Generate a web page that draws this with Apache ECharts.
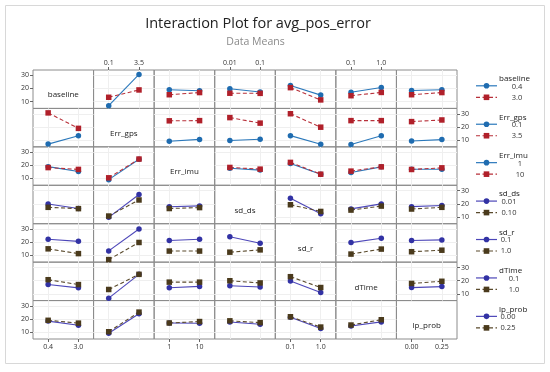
<!DOCTYPE html>
<html><head><meta charset="utf-8">
<script src="https://cdn.jsdelivr.net/npm/echarts@6/dist/echarts.min.js"></script>
<style>html,body{margin:0;padding:0;background:#fff}#c{width:550px;height:372px}</style>
</head><body><div id="c"></div>
<script>
// ---------- data ----------
const factors = ['baseline','Err_gps','Err_imu','sd_ds','sd_r','dTime','lp_prob'];
const legendLevels = [['0.4','3.0'],['0.1','3.5'],['1','10'],['0.01','0.10'],['0.1','1.0'],['0.1','1.0'],['0.00','0.25']];
const axisTickLabels = [['0.4','3.0'],['0.1','3.5'],['1','10'],['0.01','0.1'],['0.1','1.0'],['0.1','1.0'],['0.00','0.25']];
const yTickValues = [10, 20, 30];

// each entry: means at the two levels of the column factor (null on diagonal)
const baselineLow  = [null,[6.9,30.7],[19.0,18.3],[19.85,17.3],[22.3,14.95],[17.1,20.7],[18.45,19.05]];
const baselineHigh = [null,[13.3,18.9],[15.25,16.9],[16.4,16.3],[20.65,11.3],[14.5,17.0],[15.25,16.9]];
const errGpsLow    = [[6.9,13.3],null,[9.1,10.5],[9.65,10.65],[13.35,6.75],[6.65,13.25],[9.25,10.35]];
const errGpsHigh   = [[30.7,18.9],null,[24.65,24.8],[27.1,22.9],[30.05,19.8],[24.8,24.8],[24.05,25.3]];
const errImuLow    = [[19.0,15.25],[9.1,24.65],null,[17.77,16.38],[21.35,13.25],[14.55,18.85],[17.0,17.0]];
const errImuHigh   = [[18.3,16.9],[10.5,24.8],null,[18.4,17.1],[22.25,13.25],[15.6,18.85],[16.85,18.1]];
const sdDsLow      = [[19.85,16.4],[9.65,27.1],[17.77,18.4],null,[24.15,12.4],[16.1,19.9],[17.8,18.65]];
const sdDsHigh     = [[17.3,16.3],[10.65,22.9],[16.38,17.1],null,[19.25,14.15],[15.2,18.25],[16.0,17.3]];
const sdRLow       = [[22.3,20.65],[13.35,30.05],[21.35,22.25],[24.15,19.25],null,[19.7,23.0],[21.35,21.75]];
const sdRHigh      = [[14.95,11.3],[6.75,19.8],[13.25,13.25],[12.4,14.15],null,[10.95,14.75],[12.75,13.9]];
const dTimeLow     = [[17.1,14.5],[6.65,24.8],[14.55,15.6],[16.1,15.2],[19.7,10.95],null,[14.7,15.45]];
const dTimeHigh    = [[20.7,17.0],[13.25,24.8],[18.85,18.85],[19.9,18.25],[23.0,14.75],null,[17.85,19.5]];
const lpProbLow    = [[18.45,15.25],[9.25,24.05],[17.0,16.85],[17.8,16.0],[21.35,12.75],[14.7,17.85],null];
const lpProbHigh   = [[19.05,16.9],[10.35,25.3],[17.0,18.1],[18.65,17.3],[21.75,13.9],[15.45,19.5],null];

const lowLines  = [baselineLow, errGpsLow, errImuLow, sdDsLow, sdRLow, dTimeLow, lpProbLow];
const highLines = [baselineHigh, errGpsHigh, errImuHigh, sdDsHigh, sdRHigh, dTimeHigh, lpProbHigh];

// ---------- layout / style ----------
const L = 33, T = 70, W = 424 / 7, H = 269 / 7;
const Y_MIN = 4.8, Y_MAX = 34.1;
const FONT = "'Open Sans', 'Noto Sans', sans-serif";
const styleA = {low: {c: '#1f6cb0', line: '#2a78bb'}, high: {c: '#b0202a', line: '#b8303a'}};
const styleB = {low: {c: '#3232a4', line: '#4c46b8'}, high: {c: '#4a3a1c', line: '#5a4a2c'}};
const legendLabelCx = [517, 517, 520, 509, 506, 514, 508];

const grids = [], xAxes = [], yAxes = [], series = [], graphics = [];

graphics.push({type: 'rect', shape: {x: 5.5, y: 5.5, width: 539, height: 358}, style: {fill: 'none', stroke: '#d8d8d8', lineWidth: 1}, z: -1});
graphics.push({type: 'text', x: 258, y: 24, style: {text: 'Interaction Plot for avg_pos_error', font: '14.5px ' + FONT, fill: '#222', align: 'center', verticalAlign: 'middle', textAlign: 'center', textVerticalAlign: 'middle'}});
graphics.push({type: 'text', x: 255.5, y: 42, style: {text: 'Data Means', font: '10.5px ' + FONT, fill: '#8a8a8a', align: 'center', verticalAlign: 'middle', textAlign: 'center', textVerticalAlign: 'middle'}});

for (let r = 0; r < 7; r++) {
  const st = r < 3 ? styleA : styleB;
  for (let c = 0; c < 7; c++) {
    const k = r * 7 + c;
    const diag = r === c;
    grids.push({left: L + c * W, top: T + r * H, width: W, height: H, show: true,
      borderColor: '#8c8c8c', borderWidth: 1, backgroundColor: 'transparent'});
    const topLab = r === 0 && c % 2 === 1;
    const botLab = r === 6 && c % 2 === 0;
    const xLab = topLab || botLab;
    xAxes.push({type: 'category', gridIndex: k, data: axisTickLabels[c], boundaryGap: true,
      position: topLab ? 'top' : 'bottom',
      axisLine: {show: false},
      axisTick: {show: xLab, alignWithLabel: true, length: 3, lineStyle: {color: '#666'}},
      axisLabel: {show: xLab, fontSize: 7, color: '#333', margin: 4, fontFamily: FONT},
      splitLine: {show: !diag, alignWithLabel: true, lineStyle: {color: '#efefef', width: 1}}});
    const leftLab = c === 0 && r % 2 === 0;
    const rightLab = c === 6 && r % 2 === 1;
    const yLab = leftLab || rightLab;
    yAxes.push({type: 'value', gridIndex: k, min: Y_MIN, max: Y_MAX, splitNumber: 3,
      position: rightLab ? 'right' : 'left',
      axisLine: {show: false},
      axisTick: {show: yLab, length: 3, customValues: yTickValues, lineStyle: {color: '#666'}},
      axisLabel: {show: yLab, fontSize: 7, color: '#333', margin: 4, fontFamily: FONT,
        customValues: yTickValues,
        formatter: v => (yTickValues.indexOf(v) >= 0 ? String(v) : '')},
      splitLine: {show: !diag, lineStyle: {color: '#efefef', width: 1}}});
    if (diag) {
      graphics.push({type: 'text', x: L + c * W + W / 2, y: T + r * H + H / 2 + 6,
        style: {text: factors[r], font: '8px ' + FONT, fill: '#222', align: 'center', verticalAlign: 'middle', textAlign: 'center', textVerticalAlign: 'middle'}});
      continue;
    }
    series.push({type: 'line', xAxisIndex: k, yAxisIndex: k, data: lowLines[r][c],
      symbol: 'circle', symbolSize: 5.5, itemStyle: {color: st.low.c},
      lineStyle: {color: st.low.line, width: 1.1, type: 'solid'}, animation: false, silent: true});
    series.push({type: 'line', xAxisIndex: k, yAxisIndex: k, data: highLines[r][c],
      symbol: 'rect', symbolSize: 5.5, itemStyle: {color: st.high.c},
      lineStyle: {color: st.high.line, width: 1.1, type: [4, 2.5]}, animation: false, silent: true});
  }
  // legend block for this row
  const top = T + r * H;
  const y1 = top + 15.8, y2 = top + 27.3;
  graphics.push({type: 'text', x: 499, y: top + 8.8, style: {text: factors[r], font: '8px ' + FONT, fill: '#222', align: 'left', verticalAlign: 'middle', textAlign: 'left', textVerticalAlign: 'middle'}});
  graphics.push({type: 'polyline', shape: {points: [[476, y1], [497, y1]]}, style: {stroke: st.low.line, lineWidth: 1.2, fill: 'none'}});
  graphics.push({type: 'circle', shape: {cx: 486.5, cy: y1, r: 2.8}, style: {fill: st.low.c}});
  graphics.push({type: 'polyline', shape: {points: [[476, y2], [497, y2]]}, style: {stroke: st.high.line, lineWidth: 1.2, lineDash: [4, 2.5], fill: 'none'}});
  graphics.push({type: 'rect', shape: {x: 483.7, y: y2 - 2.8, width: 5.6, height: 5.6}, style: {fill: st.high.c}});
  graphics.push({type: 'text', x: legendLabelCx[r], y: y1 + 0.8, style: {text: legendLevels[r][0], font: '7.5px ' + FONT, fill: '#333', align: 'center', verticalAlign: 'middle', textAlign: 'center', textVerticalAlign: 'middle'}});
  graphics.push({type: 'text', x: legendLabelCx[r], y: y2 + 0.3, style: {text: legendLevels[r][1], font: '7.5px ' + FONT, fill: '#333', align: 'center', verticalAlign: 'middle', textAlign: 'center', textVerticalAlign: 'middle'}});
}

const chart = echarts.init(document.getElementById('c'), null, {renderer: 'canvas'});
chart.setOption({
  backgroundColor: '#ffffff',
  animation: false,
  grid: grids, xAxis: xAxes, yAxis: yAxes, series: series,
  graphic: {elements: graphics}
});
</script></body></html>
